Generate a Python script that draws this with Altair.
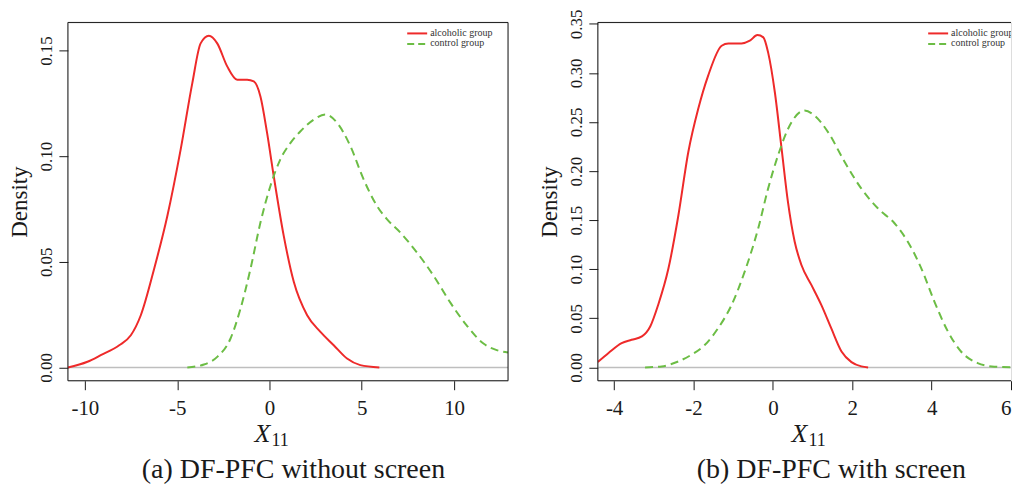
import altair as alt
import pandas as pd

FONT = "Liberation Serif"
RED = "#EE2A2A"
GREEN = "#6CBD45"
ZERO = "#BEBEBE"
INK = "#1a1a1a"

# ---- data ----
a_red_x = [-10.92, -9.86, -9.14, -8.14, -7.51, -6.97, -6.25, -5.53, -4.81, -4.18, -3.73, -3.28, -2.83,
           -2.29, -1.75, -1.21, -0.85, -0.49, -0.13, 0.23, 0.77, 1.32, 2.04, 2.76, 3.48, 4.20, 4.92, 5.95]
a_red_y = [0.0, 0.0027, 0.0058, 0.0105, 0.0152, 0.0247, 0.0466, 0.0718, 0.1032, 0.1346, 0.1534, 0.1570,
           0.1534, 0.1425, 0.1362, 0.1362, 0.1354, 0.1283, 0.1110, 0.0906, 0.0624, 0.0404, 0.0247, 0.0168,
           0.0105, 0.0042, 0.0011, 0.0]
a_green_x = [-4.45, -3.55, -2.83, -2.11, -1.57, -1.03, -0.49, 0.05, 0.59, 1.14, 1.68, 2.40, 3.03, 3.66,
             4.38, 5.10, 5.82, 6.36, 7.08, 7.98, 8.88, 9.78, 10.68, 11.59, 12.31, 12.92]
a_green_y = [0.0, 0.0014, 0.0050, 0.0137, 0.0278, 0.0466, 0.0686, 0.0859, 0.0985, 0.1063, 0.1118, 0.1173,
             0.1197, 0.1158, 0.1048, 0.0890, 0.0765, 0.0702, 0.0639, 0.0545, 0.0435, 0.0309, 0.0199,
             0.0113, 0.0082, 0.0071]

b_red_x = [-4.41, -4.14, -3.81, -3.56, -3.30, -3.09, -2.89, -2.63, -2.38, -2.13, -1.88, -1.63, -1.29,
           -1.12, -0.79, -0.58, -0.39, -0.24, -0.12, 0.05, 0.22, 0.38, 0.55, 0.72, 0.97, 1.22, 1.47,
           1.73, 1.98, 2.23, 2.40]
b_red_y = [0.0054, 0.0146, 0.0247, 0.0281, 0.0315, 0.0416, 0.0636, 0.1009, 0.1550, 0.2194, 0.2634,
           0.2972, 0.3277, 0.3300, 0.3300, 0.3328, 0.3385, 0.3362, 0.3209, 0.2803, 0.2228, 0.1686,
           0.1280, 0.1043, 0.0840, 0.0636, 0.0399, 0.0162, 0.0054, 0.0010, 0.0]
b_green_x = [-3.22, -2.80, -2.38, -2.05, -1.71, -1.38, -1.04, -0.71, -0.37, -0.12, 0.13, 0.47, 0.80,
             1.05, 1.39, 1.81, 2.23, 2.65, 3.07, 3.40, 3.74, 4.07, 4.41, 4.74, 5.16, 5.58, 6.19]
b_green_y = [0.0, 0.0010, 0.0061, 0.0129, 0.0230, 0.0399, 0.0636, 0.0975, 0.1415, 0.1821, 0.2160,
             0.2498, 0.2617, 0.2566, 0.2397, 0.2092, 0.1821, 0.1618, 0.1466, 0.1280, 0.1009, 0.0670,
             0.0366, 0.0162, 0.0044, 0.0007, 0.0]

a_xticks = [-10, -5, 0, 5, 10]
a_yticks = [0.0, 0.05, 0.10, 0.15]
b_xticks = [-4, -2, 0, 2, 4, 6]
b_yticks = [0.0, 0.05, 0.10, 0.15, 0.20, 0.25, 0.30, 0.35]

legend_labels = ["alcoholic group", "control group"]
captions = ["(a) DF-PFC without screen", "(b) DF-PFC with screen"]


def panel(red_x, red_y, green_x, green_y, xdom, ydom, xticks, yticks, W, H,
          leg_x, cap_x, xt_x, caption, right_frame):
    xs = alt.Scale(domain=xdom, nice=False, zero=False)
    ys = alt.Scale(domain=ydom, nice=False, zero=False)
    xaxis = alt.Axis(values=xticks, tickSize=9, labelPadding=8, labelFontSize=21, labelFont=FONT,
                     labelColor=INK, domain=False, tickColor=INK, grid=False, title=None,
                     labelFlush=True, labelFlushOffset=0, labelExpr="datum.value + ''")
    yaxis = alt.Axis(values=yticks, format=".2f", tickSize=9, labelPadding=3, labelFontSize=17,
                     labelFont=FONT, labelColor=INK, labelAngle=270, labelAlign="center",
                     labelBaseline="bottom", domain=False, tickColor=INK, grid=False,
                     title="Density", titleFont=FONT, titleFontSize=23, titleFontWeight="normal",
                     titleColor=INK, titlePadding=6)

    red_df = pd.DataFrame({"x": red_x, "y": red_y})
    green_df = pd.DataFrame({"x": green_x, "y": green_y})

    zero = alt.Chart(pd.DataFrame({"y": [0]})).mark_rule(color=ZERO, strokeWidth=1.5).encode(
        y=alt.Y("y:Q", scale=ys, axis=yaxis))
    red = alt.Chart(red_df).mark_line(color=RED, strokeWidth=2, interpolate="monotone", clip=True).encode(
        x=alt.X("x:Q", scale=xs, axis=xaxis), y=alt.Y("y:Q", scale=ys, axis=yaxis))
    green = alt.Chart(green_df).mark_line(color=GREEN, strokeWidth=2, strokeDash=[8, 5],
                                          interpolate="monotone", clip=True).encode(
        x=alt.X("x:Q", scale=xs, axis=xaxis), y=alt.Y("y:Q", scale=ys, axis=yaxis))

    base = alt.Chart(pd.DataFrame({"k": [0]}))
    frame = [
        base.mark_rule(color=INK, strokeWidth=1).encode(x=alt.value(0), x2=alt.value(W), y=alt.value(0)),
        base.mark_rule(color=INK, strokeWidth=1).encode(x=alt.value(0), x2=alt.value(W), y=alt.value(H)),
        base.mark_rule(color=INK, strokeWidth=1).encode(x=alt.value(0), y=alt.value(0), y2=alt.value(H)),
    ]
    if right_frame:
        frame.append(base.mark_rule(color=INK, strokeWidth=1).encode(
            x=alt.value(W), y=alt.value(0), y2=alt.value(H)))

    leg = [
        base.mark_rule(color=RED, strokeWidth=2).encode(
            x=alt.value(leg_x), x2=alt.value(leg_x + 20), y=alt.value(11)),
        base.mark_rule(color=GREEN, strokeWidth=2, strokeDash=[7, 4]).encode(
            x=alt.value(leg_x), x2=alt.value(leg_x + 20), y=alt.value(21.5)),
        base.mark_text(align="left", baseline="middle", font=FONT, fontSize=10, color="#333", clip=True).encode(
            x=alt.value(leg_x + 23), y=alt.value(10.5), text=alt.value(legend_labels[0])),
        base.mark_text(align="left", baseline="middle", font=FONT, fontSize=10, color="#333", clip=True).encode(
            x=alt.value(leg_x + 23), y=alt.value(21), text=alt.value(legend_labels[1])),
    ]

    texts = [
        base.mark_text(align="left", baseline="alphabetic", font=FONT, fontSize=26, fontStyle="italic",
                       color=INK).encode(x=alt.value(xt_x + 2), y=alt.value(420), text=alt.value("X")),
        base.mark_text(align="left", baseline="alphabetic", font=FONT, fontSize=18,
                       color=INK).encode(x=alt.value(xt_x + 19), y=alt.value(424), text=alt.value("11")),
        base.mark_text(align="center", baseline="alphabetic", font=FONT, fontSize=28,
                       color=INK).encode(x=alt.value(cap_x), y=alt.value(456), text=alt.value(caption)),
    ]

    return alt.layer(zero, red, green, *frame, *leg, *texts).properties(width=W, height=H)


left = panel(a_red_x, a_red_y, a_green_x, a_green_y, [-10.92, 12.92], [-0.0063, 0.1633],
             a_xticks, a_yticks, 441, 359, 340, 226, 185, captions[0], True)
right = panel(b_red_x, b_red_y, b_green_x, b_green_y, [-4.41, 6.0], [-0.0136, 0.3514],
              b_xticks, b_yticks, 414, 359, 331, 234, 192, captions[1], False)

chart = alt.hconcat(left, right, spacing=90, bounds="flush").properties(
    padding={"left": 0, "top": 0, "right": 0, "bottom": 0}
).configure_view(stroke=None).configure(font=FONT, background="white")

chart.save("out.html", embed_options={"renderer": "svg", "actions": False})
